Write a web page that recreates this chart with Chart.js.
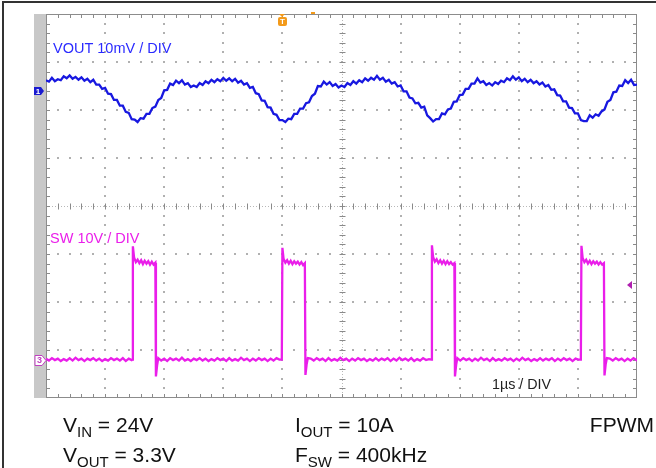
<!DOCTYPE html>
<html>
<head>
<meta charset="utf-8">
<script src="https://cdn.jsdelivr.net/npm/chart.js@4.4.0/dist/chart.umd.min.js"></script>
<style>
  html, body { margin: 0; padding: 0; background: #fff; }
  body { width: 656px; height: 468px; position: relative; overflow: hidden; font-family: 'Liberation Sans', Arial, sans-serif; }
  #frame { position: absolute; left: 2px; top: 1px; width: 700px; height: 500px; border-left: 2px solid #333; border-top: 2px solid #333; }
  #scope { position: absolute; left: 0; top: 0; }
  .note { position: absolute; font-size: 21px; color: #111; line-height: 21px; white-space: nowrap; }
  .note sub { font-size: 15px; vertical-align: -5px; line-height: 0; }
</style>
</head>
<body>
<div id="frame"></div>
<canvas id="scope" width="656" height="468"></canvas>
<div class="note" style="left:63px; top:414px">V<sub>IN</sub> = 24V</div>
<div class="note" style="left:63px; top:444px">V<sub>OUT</sub> = 3.3V</div>
<div class="note" style="left:295px; top:414px">I<sub>OUT</sub> = 10A</div>
<div class="note" style="left:295px; top:444px">F<sub>SW</sub> = 400kHz</div>
<div class="note" style="right:2px; top:414px">FPWM</div>
<script>
// screen: 10 div x 1 µs, 8 div vertical
const X_DIVS = 10;
const Y_DIVS = 8;
const T_STEP = 0.05; // µs between VOUT samples

// channel 1: VOUT ripple in mV, relative to its marker (10 mV/div), one row per µs
const voutMv = [
  2.2, 1.9, 2.7, 2.0, 2.4, 2.2, 3.0, 2.6, 3.2, 2.5, 2.9, 2.3, 2.8, 2.1, 2.5, 1.8, 2.3, 1.3, 1.3, 0.4,
  0.6, -0.6, -0.7, -1.9, -1.9, -3.1, -3.1, -4.4, -4.6, -5.9, -6.0, -6.5, -5.7, -5.8, -4.8, -4.8, -3.6, -3.3, -1.9, -1.5,
  0.1, 0.2, 1.5, 1.2, 2.1, 1.6, 2.2, 1.3, 1.6, 0.8, 1.1, 0.8, 1.6, 1.2, 2.0, 1.6, 2.3, 1.8, 2.4, 2.0,
  2.7, 2.1, 2.6, 2.0, 2.5, 1.7, 2.1, 1.3, 1.6, 0.6, 0.8, -0.5, -0.7, -2.0, -2.1, -3.4, -3.5, -4.8, -5.0, -6.1,
  -6.1, -6.5, -5.8, -5.9, -4.8, -4.8, -3.7, -3.7, -2.6, -2.4, -1.1, -0.6, 1.0, 0.9, 1.9, 1.3, 1.8, 1.0, 1.4, 0.7,
  1.1, 0.8, 1.6, 1.2, 2.0, 1.5, 2.2, 1.8, 2.6, 2.1, 2.7, 2.3, 3.1, 2.3, 2.7, 1.9, 2.3, 1.5, 1.8, 0.9,
  1.1, -0.1, -0.1, -1.4, -1.6, -2.6, -2.5, -3.5, -3.3, -5.1, -5.7, -6.4, -5.9, -5.9, -4.7, -4.9, -3.9, -3.7, -2.3, -2.2,
  -0.9, -0.8, 0.4, 0.4, 1.5, 1.5, 2.6, 1.7, 2.0, 1.2, 1.6, 1.1, 1.8, 1.4, 2.1, 1.8, 2.6, 2.2, 3.0, 2.3,
  2.8, 2.0, 2.5, 1.8, 2.3, 1.6, 2.0, 1.3, 1.7, 0.9, 1.2, 0.2, 0.3, -0.9, -1.0, -2.2, -2.2, -3.5, -3.6, -4.7,
  -4.7, -6.1, -6.3, -6.3, -5.1, -5.6, -4.9, -5.2, -4.3, -3.9, -2.3, -1.9, -0.3, -0.2, 1.1, 1.0, 2.2, 1.6, 2.3, 1.2,
  1.3
];

// channel 3: switch node (10 V/div), time in µs and volts
const swTime = [
  0, 0.05, 0.1, 0.15, 0.2, 0.25, 0.3, 0.35, 0.4, 0.45, 0.5, 0.55, 0.6, 0.65, 0.7,
  0.75, 0.8, 0.85, 0.9, 0.95, 1.0, 1.05, 1.1, 1.15, 1.2, 1.25, 1.3, 1.35, 1.4, 1.45,
  1.46, 1.47, 1.49, 1.52, 1.55, 1.58, 1.61, 1.64, 1.67, 1.7, 1.73, 1.76, 1.79, 1.82, 1.85, 1.86, 1.88, 1.9,
  1.95, 2.0, 2.05, 2.1, 2.15, 2.2, 2.25, 2.3, 2.35, 2.4, 2.45, 2.5, 2.55, 2.6, 2.65, 2.7, 2.75, 2.8, 2.85, 2.9,
  2.95, 3.0, 3.05, 3.1, 3.15, 3.2, 3.25, 3.3, 3.35, 3.4, 3.45, 3.5, 3.55, 3.6, 3.65, 3.7, 3.75, 3.8, 3.85, 3.9, 3.95,
  3.99, 4.0, 4.02, 4.05, 4.08, 4.11, 4.14, 4.17, 4.2, 4.23, 4.26, 4.29, 4.32, 4.35, 4.38, 4.39, 4.41, 4.43,
  4.48, 4.53, 4.58, 4.63, 4.68, 4.73, 4.78, 4.83, 4.88, 4.93, 4.98, 5.03, 5.08, 5.13, 5.18, 5.23, 5.28, 5.33, 5.38, 5.43,
  5.48, 5.53, 5.58, 5.63, 5.68, 5.73, 5.78, 5.83, 5.88, 5.93, 5.98, 6.03, 6.08, 6.13, 6.18, 6.23, 6.28, 6.33, 6.38, 6.43, 6.48,
  6.52, 6.53, 6.55, 6.58, 6.61, 6.64, 6.67, 6.7, 6.73, 6.76, 6.79, 6.82, 6.85, 6.88, 6.91, 6.92, 6.94, 6.96,
  7.01, 7.06, 7.11, 7.16, 7.21, 7.26, 7.31, 7.36, 7.41, 7.46, 7.51, 7.56, 7.61, 7.66, 7.71, 7.76, 7.81, 7.86, 7.91, 7.96,
  8.01, 8.06, 8.11, 8.16, 8.21, 8.26, 8.31, 8.36, 8.41, 8.46, 8.51, 8.56, 8.61, 8.66, 8.71, 8.76, 8.81, 8.86, 8.91, 8.96, 9.01,
  9.05, 9.06, 9.08, 9.11, 9.14, 9.17, 9.2, 9.23, 9.26, 9.29, 9.32, 9.35, 9.38, 9.41, 9.44, 9.45, 9.47, 9.49,
  9.54, 9.59, 9.64, 9.69, 9.74, 9.79, 9.84, 9.89, 9.94, 9.99, 10
];
const swVolt = [
  0.2, -0.2, 0.3, -0.1, 0.2, -0.3, 0.1, -0.2, 0.3, -0.2, 0.4, -0.1, 0.2, -0.3, 0.2,
  -0.1, 0.3, -0.2, 0.2, -0.3, 0.1, -0.2, 0.3, -0.1, 0.2, -0.2, 0.3, -0.3, 0.2, -0.1,
  0.0, 23.6, 21.3, 20.3, 20.8, 20.1, 20.7, 19.9, 20.6, 20.0, 20.5, 19.8, 20.4, 19.8, 20.2, -3.5, -1.2, 0.3,
  -0.2, 0.2, -0.3, 0.3, -0.1, 0.2, -0.2, 0.4, -0.2, 0.1, -0.3, 0.2, -0.1, 0.3, -0.2, 0.2, -0.3, 0.1, -0.2, 0.3,
  -0.1, 0.2, -0.3, 0.3, -0.2, 0.1, -0.2, 0.4, -0.1, 0.2, -0.3, 0.2, -0.2, 0.3, -0.1, 0.2, -0.3, 0.2, -0.2, 0.3, 0.0,
  0.0, 23.3, 21.0, 20.2, 20.7, 20.0, 20.6, 19.9, 20.5, 20.0, 20.4, 19.8, 20.3, 19.7, 20.1, -3.2, -1.0, 0.3,
  0.2, -0.2, 0.3, -0.1, 0.2, -0.3, 0.3, -0.2, 0.1, -0.2, 0.4, -0.1, 0.2, -0.3, 0.2, -0.2, 0.3, -0.1, 0.2, -0.3,
  0.1, -0.2, 0.3, -0.2, 0.2, -0.1, 0.3, -0.3, 0.2, -0.2, 0.4, -0.1, 0.2, -0.2, 0.3, -0.3, 0.1, -0.2, 0.3, -0.1, 0.1,
  0.0, 23.8, 21.4, 20.4, 20.9, 20.1, 20.7, 20.0, 20.6, 19.9, 20.5, 19.9, 20.3, 19.8, 20.1, -3.5, -1.1, 0.3,
  -0.2, 0.3, -0.1, 0.2, -0.3, 0.2, -0.2, 0.4, -0.1, 0.2, -0.3, 0.3, -0.2, 0.1, -0.2, 0.3, -0.1, 0.2, -0.3, 0.2,
  -0.2, 0.4, -0.1, 0.2, -0.3, 0.1, -0.2, 0.3, -0.2, 0.2, -0.1, 0.3, -0.3, 0.2, -0.2, 0.3, -0.1, 0.2, -0.3, 0.2, 0.0,
  0.0, 23.7, 21.2, 20.3, 20.8, 20.0, 20.6, 19.9, 20.5, 20.0, 20.4, 19.8, 20.3, 19.8, 20.1, -3.3, -1.0, 0.3,
  0.2, -0.2, 0.3, -0.1, 0.2, -0.3, 0.2, -0.2, 0.3, -0.1, 0.1
];

const CH1_OFFSET = 6.4;  // div
const CH1_SCALE = 10;    // mV/div
const CH3_OFFSET = 0.8;  // div
const CH3_SCALE = 10;    // V/div
const TRIG_TIME = 4.0;   // µs
const TRIG_LEVEL = 15.6; // V on channel 3
const REF_TIME = 4.52;   // µs, small orange mark on top edge

const VOUT_COLOR = '#1818e0';
const SW_COLOR = '#ea1eea';

const voutPoints = voutMv.map((v, i) => ({ x: i * T_STEP, y: CH1_OFFSET + v / CH1_SCALE }));
const swPoints = swTime.map((t, i) => ({ x: t, y: CH3_OFFSET + swVolt[i] / CH3_SCALE }));

// graticule, channel strip and on-screen markers
const scopeScreen = {
  id: 'scopeScreen',
  beforeDatasetsDraw(chart) {
    const { ctx, chartArea: a, scales: { x, y } } = chart;
    ctx.save();
    ctx.fillStyle = '#c8c8c8';
    ctx.fillRect(a.left - 12, a.top, 12, a.bottom - a.top);

    // dotted grid
    ctx.fillStyle = '#b0b0b0';
    for (let i = 1; i < X_DIVS; i++) {
      if (i === X_DIVS / 2) continue;
      const px = Math.round(x.getPixelForValue(i));
      for (let j = 1; j < Y_DIVS * 5; j++) {
        ctx.fillRect(px - 1, Math.round(y.getPixelForValue(j / 5)) - 1, 2, 2);
      }
    }
    for (let j = 1; j < Y_DIVS; j++) {
      if (j === Y_DIVS / 2) continue;
      const py = Math.round(y.getPixelForValue(j));
      for (let i = 1; i < X_DIVS * 5; i++) {
        ctx.fillRect(Math.round(x.getPixelForValue(i / 5)) - 1, py - 1, 2, 2);
      }
    }

    // centre cross with minor ticks
    const cx = Math.round(x.getPixelForValue(X_DIVS / 2)) + 0.5;
    const cy = Math.round(y.getPixelForValue(Y_DIVS / 2)) + 0.5;
    ctx.strokeStyle = '#b8b8b8';
    ctx.lineWidth = 1;
    ctx.setLineDash([1, 2]);
    ctx.beginPath();
    ctx.moveTo(cx, a.top); ctx.lineTo(cx, a.bottom);
    ctx.moveTo(a.left, cy); ctx.lineTo(a.right, cy);
    ctx.stroke();
    ctx.setLineDash([]);
    ctx.strokeStyle = '#8a8a8a';
    ctx.beginPath();
    for (let j = 1; j < Y_DIVS * 5; j++) {
      const py = Math.round(y.getPixelForValue(j / 5)) + 0.5;
      ctx.moveTo(cx - 3, py); ctx.lineTo(cx + 3, py);
      ctx.moveTo(a.left, py); ctx.lineTo(a.left + 4, py);
      ctx.moveTo(a.right, py); ctx.lineTo(a.right - 4, py);
    }
    for (let i = 1; i < X_DIVS * 5; i++) {
      const px = Math.round(x.getPixelForValue(i / 5)) + 0.5;
      ctx.moveTo(px, cy - 3); ctx.lineTo(px, cy + 3);
      ctx.moveTo(px, a.top); ctx.lineTo(px, a.top + 4);
      ctx.moveTo(px, a.bottom); ctx.lineTo(px, a.bottom - 4);
    }
    ctx.stroke();

    ctx.strokeStyle = '#8c8c8c';
    ctx.strokeRect(a.left + 0.5, a.top + 0.5, a.right - a.left - 1, a.bottom - a.top - 1);
    ctx.restore();
  },
  afterDatasetsDraw(chart) {
    const { ctx, chartArea: a, scales: { x, y } } = chart;
    ctx.save();

    // channel 1 marker
    const y1 = Math.round(y.getPixelForValue(CH1_OFFSET));
    ctx.fillStyle = '#1a1ad0';
    ctx.beginPath();
    ctx.moveTo(a.left - 12, y1 - 4); ctx.lineTo(a.left - 5, y1 - 4); ctx.lineTo(a.left - 2, y1);
    ctx.lineTo(a.left - 5, y1 + 4); ctx.lineTo(a.left - 12, y1 + 4); ctx.closePath();
    ctx.fill();
    ctx.fillStyle = '#fff';
    ctx.font = 'bold 8px "Liberation Sans", Arial';
    ctx.textAlign = 'center';
    ctx.textBaseline = 'middle';
    ctx.fillText('1', a.left - 8, y1 + 0.5);

    // channel 3 marker
    const y3 = Math.round(y.getPixelForValue(CH3_OFFSET)) + 0.5;
    ctx.fillStyle = '#fff';
    ctx.strokeStyle = '#c040c0';
    ctx.lineWidth = 1;
    ctx.beginPath();
    ctx.moveTo(a.left - 11, y3 - 5); ctx.lineTo(a.left - 4, y3 - 5); ctx.lineTo(a.left, y3);
    ctx.lineTo(a.left - 4, y3 + 5); ctx.lineTo(a.left - 11, y3 + 5); ctx.closePath();
    ctx.fill();
    ctx.stroke();
    ctx.fillStyle = '#c040c0';
    ctx.font = 'bold 9px "Liberation Sans", Arial';
    ctx.fillText('3', a.left - 6.5, y3 + 0.5);

    // trigger position
    const tx = Math.round(x.getPixelForValue(TRIG_TIME));
    ctx.fillStyle = '#f39a1a';
    ctx.beginPath();
    ctx.moveTo(tx - 3, a.top); ctx.lineTo(tx + 3, a.top); ctx.lineTo(tx, a.top + 3); ctx.closePath();
    ctx.fill();
    ctx.beginPath();
    ctx.roundRect(tx - 4, a.top + 3, 9, 9, 2);
    ctx.fill();
    ctx.fillRect(Math.round(x.getPixelForValue(REF_TIME)) - 2, a.top - 2, 4, 2);
    ctx.fillStyle = '#fff';
    ctx.font = 'bold 8px "Liberation Sans", Arial';
    ctx.fillText('T', tx + 0.5, a.top + 8);

    // trigger level on channel 3
    const ty = Math.round(y.getPixelForValue(CH3_OFFSET + TRIG_LEVEL / CH3_SCALE));
    ctx.fillStyle = '#b020b0';
    ctx.beginPath();
    ctx.moveTo(a.right - 10, ty); ctx.lineTo(a.right - 5, ty - 4); ctx.lineTo(a.right - 5, ty + 4); ctx.closePath();
    ctx.fill();

    // channel and timebase labels
    ctx.textAlign = 'left';
    ctx.textBaseline = 'alphabetic';
    ctx.font = '14.5px "Liberation Sans", Arial';
    ctx.fillStyle = '#2a2aff';
    ctx.fillText('VOUT 10mV / DIV', a.left + 7, a.top + 39);
    ctx.fillStyle = SW_COLOR;
    ctx.fillText('SW 10V / DIV', a.left + 4, a.top + 229);
    ctx.fillStyle = '#222';
    ctx.font = '14.3px "Liberation Sans", Arial';
    ctx.fillText('1µs / DIV', a.left + 446, a.bottom - 9);
    ctx.restore();
  }
};

new Chart(document.getElementById('scope'), {
  type: 'line',
  data: {
    datasets: [
      { label: 'VOUT', data: voutPoints, borderColor: VOUT_COLOR, borderWidth: 2.3 },
      { label: 'SW', data: swPoints, borderColor: SW_COLOR, borderWidth: 2.3 }
    ]
  },
  options: {
    responsive: false,
    animation: false,
    devicePixelRatio: 1,
    layout: { padding: { left: 46, top: 14, right: 19, bottom: 70 } },
    elements: { point: { radius: 0 }, line: { tension: 0 } },
    scales: {
      x: { type: 'linear', min: 0, max: X_DIVS, display: false },
      y: { type: 'linear', min: 0, max: Y_DIVS, display: false }
    },
    plugins: { legend: { display: false }, tooltip: { enabled: false } }
  },
  plugins: [scopeScreen]
});
</script>
</body>
</html>
